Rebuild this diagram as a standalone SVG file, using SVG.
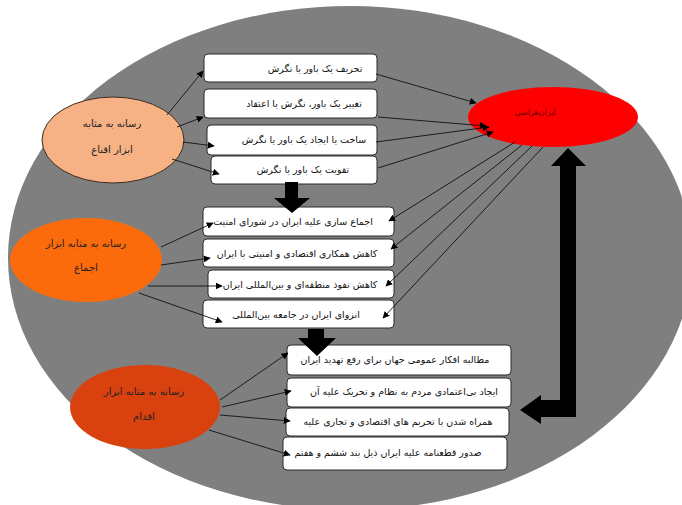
<svg xmlns="http://www.w3.org/2000/svg" width="682" height="505" viewBox="0 0 682 505">
<style>
.box{fill:#fff;stroke:#2b2b2b;stroke-width:1}
.t{font-family:"DejaVu Sans","Noto Sans",sans-serif;font-size:9.5px;fill:#111;text-anchor:middle}
.et{font-family:"DejaVu Sans","Noto Sans",sans-serif;font-size:10px;fill:#222;text-anchor:middle}
.c{stroke:#111;stroke-width:0.9;fill:none;marker-end:url(#ah)}
.big{fill:#000}
</style>
<defs>
<marker id="ah" viewBox="0 0 10 10" refX="9" refY="5" markerWidth="7" markerHeight="7" markerUnits="userSpaceOnUse" orient="auto">
<path d="M0,0 L10,5 L0,10 z" fill="#000"/>
</marker>
</defs>
<rect width="682" height="505" fill="#fff"/>
<ellipse id="bg" cx="350" cy="258" rx="342" ry="252" fill="#7f7f7f"/>

<g id="persuasion">
<ellipse cx="113" cy="140" rx="71" ry="43" fill="#f6b184" stroke="#3a2a20" stroke-width="1"/>
<text class="et" x="112" y="127">رسانه به مثابه</text>
<text class="et" x="112" y="153">ابزار اقناع</text>
</g>
<g id="consensus">
<ellipse cx="86" cy="260" rx="76" ry="42" fill="#fb6b0c"/>
<text class="et" x="86" y="247">رسانه به مثابه ابزار</text>
<text class="et" x="86" y="271">اجماع</text>
</g>
<g id="action">
<ellipse cx="145" cy="407" rx="75" ry="42" fill="#d9410f"/>
<text class="et" x="144" y="395" fill="#3a1000">رسانه به مثابه ابزار</text>
<text class="et" x="144" y="420" fill="#3a1000">اقدام</text>
</g>
<g id="target">
<ellipse cx="553" cy="117" rx="85" ry="30" fill="#ff0000"/>
<text class="et" x="535" y="115" style="font-size:8px;fill:#5a0000">ایران‌هراسی</text>
</g>

<g id="b1"><rect class="box" x="204" y="54" width="173" height="28" rx="4"/><text class="t" x="315" y="72">تحریف یک باور یا نگرش</text></g>
<g id="b2"><rect class="box" x="204" y="89" width="173" height="29" rx="4"/><text class="t" x="304" y="107">تغییر یک باور، نگرش یا اعتقاد</text></g>
<g id="b3"><rect class="box" x="207" y="125" width="170" height="30" rx="4"/><text class="t" x="304" y="143">ساخت یا ایجاد یک باور یا نگرش</text></g>
<g id="b4"><rect class="box" x="211" y="156" width="166" height="28" rx="4"/><text class="t" x="303" y="173">تقویت یک باور یا نگرش</text></g>

<g id="b5"><rect class="box" x="203" y="207" width="191" height="29" rx="4"/><text class="t" x="293" y="225">اجماع سازی علیه ایران در شورای امنیت</text></g>
<g id="b6"><rect class="box" x="203" y="239" width="191" height="28" rx="4"/><text class="t" x="297" y="257">کاهش همکاری اقتصادی و امنیتی با ایران</text></g>
<g id="b7"><rect class="box" x="208" y="270" width="186" height="28" rx="4"/><text class="t" x="300" y="288">کاهش نفوذ منطقه‌ای و بین‌المللی  ایران</text></g>
<g id="b8"><rect class="box" x="203" y="300" width="191" height="28" rx="4"/><text class="t" x="296" y="318">انزوای ایران در جامعه بین‌المللی</text></g>

<g id="b9"><rect class="box" x="287" y="345" width="224" height="30" rx="4"/><text class="t" x="395" y="363">مطالبه افکار عمومی جهان برای رفع تهدید ایران</text></g>
<g id="b10"><rect class="box" x="287" y="378" width="224" height="29" rx="4"/><text class="t" x="404" y="395">ایجاد بی‌اعتمادی مردم به نظام و تحریک علیه آن</text></g>
<g id="b11"><rect class="box" x="286" y="408" width="223" height="28" rx="4"/><text class="t" x="398" y="425">همراه شدن با تحریم های اقتصادی و تجاری علیه</text></g>
<g id="b12"><rect class="box" x="283" y="437" width="224" height="33" rx="4"/><text class="t" x="388" y="456">صدور قطعنامه علیه ایران ذیل بند ششم و هفتم</text></g>

<g id="big-arrows">
<polygon class="big" points="285,182 298,182 298,198 310,198 292,213 274,198 285,198"/>
<polygon class="big" points="308,329 324,329 324,338 336,338 317,356 298,338 308,338"/>
<polygon class="big" points="568,148 586,166 576,166 576,417 541,417 541,424 520,410 541,395 541,400 560,400 560,166 551,166"/>
</g>

<g id="connectors">
<line class="c" x1="167" y1="115" x2="203" y2="71"/>
<line class="c" x1="177" y1="127" x2="203" y2="117"/>
<line class="c" x1="183" y1="142" x2="214" y2="146"/>
<line class="c" x1="172" y1="159" x2="219" y2="174"/>
<line class="c" x1="376" y1="74" x2="476" y2="103"/>
<line class="c" x1="378" y1="117" x2="486" y2="126"/>
<line class="c" x1="376" y1="142" x2="489" y2="127"/>
<line class="c" x1="378" y1="168" x2="493" y2="132"/>
<line class="c" x1="515" y1="142" x2="389" y2="221"/>
<line class="c" x1="522" y1="145" x2="391" y2="249"/>
<line class="c" x1="532" y1="146" x2="386" y2="286"/>
<line class="c" x1="543" y1="147" x2="383" y2="318"/>
<line class="c" x1="161" y1="247" x2="213" y2="223"/>
<line class="c" x1="161" y1="265" x2="210" y2="258"/>
<line class="c" x1="148" y1="286" x2="222" y2="286"/>
<line class="c" x1="139" y1="293" x2="222" y2="322"/>
<line class="c" x1="220" y1="400" x2="288" y2="353"/>
<line class="c" x1="222" y1="407" x2="291" y2="391"/>
<line class="c" x1="220" y1="415" x2="290" y2="421"/>
<line class="c" x1="209" y1="430" x2="290" y2="455"/>
</g>
</svg>
